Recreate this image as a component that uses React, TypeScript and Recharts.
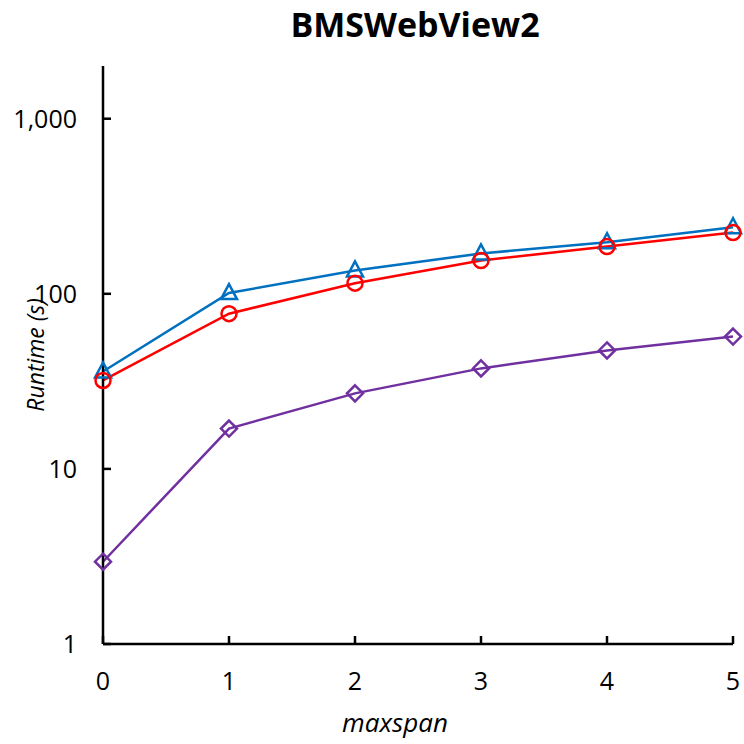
import React from 'react';
import { LineChart, Line, XAxis, YAxis } from 'recharts';

const maxspan = [0, 1, 2, 3, 4, 5];
const seriesBlue = [36, 101, 136, 170, 197, 240];
const seriesRed = [32, 77, 115, 155, 186, 224];
const seriesPurple = [2.95, 17, 27, 37.5, 47.5, 57];
const yTicks = [1, 10, 100, 1000];
const xTicks = [0, 1, 2, 3, 4, 5];

const data = maxspan.map((m, i) => ({
  maxspan: m,
  blue: seriesBlue[i],
  red: seriesRed[i],
  purple: seriesPurple[i],
}));

const FONT = '"Open Sans", "Liberation Sans", sans-serif';

const fmt = (v: number) => v.toLocaleString('en-US');

const XTick = (props: any) => {
  const { x, y, payload } = props;
  return (
    <text x={x} y={y + 46} textAnchor="middle" fontFamily={FONT} fontSize={25} fill="#000">
      {payload.value}
    </text>
  );
};

const YTick = (props: any) => {
  const { x, y, payload } = props;
  return (
    <text x={x - 26} y={y + 9} textAnchor="end" fontFamily={FONT} fontSize={25} fill="#000">
      {fmt(payload.value)}
    </text>
  );
};

const Triangle = (props: any) => {
  const { cx, cy, index } = props;
  if (cx == null || cy == null) return <g key={`t${index}`} />;
  return (
    <path
      key={`t${index}`}
      d={`M${cx},${cy - 9} L${cx - 8},${cy + 6} L${cx + 8},${cy + 6} Z`}
      fill="none"
      stroke="#0070C0"
      strokeWidth={2.5}
    />
  );
};

const Circle = (props: any) => {
  const { cx, cy, index } = props;
  if (cx == null || cy == null) return <g key={`c${index}`} />;
  return <circle key={`c${index}`} cx={cx} cy={cy} r={7.5} fill="none" stroke="#FF0000" strokeWidth={2.5} />;
};

const Diamond = (props: any) => {
  const { cx, cy, index } = props;
  if (cx == null || cy == null) return <g key={`d${index}`} />;
  return (
    <path
      key={`d${index}`}
      d={`M${cx},${cy - 8} L${cx + 8},${cy} L${cx},${cy + 8} L${cx - 8},${cy} Z`}
      fill="none"
      stroke="#7030A0"
      strokeWidth={2.5}
    />
  );
};

export default function App() {
  return (
    <div style={{ position: 'absolute', left: 0, top: 0, width: 744, height: 744, background: '#fff' }}>
      <div
        style={{
          position: 'absolute',
          left: 0,
          width: 830,
          top: 7,
          textAlign: 'center',
          fontFamily: FONT,
          fontWeight: 700,
          fontSize: 34,
          color: '#000',
          lineHeight: '34px',
        }}
      >
        BMSWebView2
      </div>
      <LineChart
        width={744}
        height={744}
        data={data}
        margin={{ top: 66, right: 11, bottom: 0, left: 0 }}
      >
        <XAxis
          dataKey="maxspan"
          type="number"
          domain={[0, 5]}
          ticks={xTicks}
          height={100}
          tickSize={-8}
          tickMargin={8}
          tickLine={{ stroke: '#000', strokeWidth: 2.5 }}
          axisLine={{ stroke: '#000', strokeWidth: 2.5 }}
          tick={<XTick />}
          interval={0}
          label={{
            content: () => (
              <text
                x={395}
                y={732}
                textAnchor="middle"
                fontFamily={FONT}
                fontStyle="italic"
                fontSize={26}
                fill="#000"
              >
                maxspan
              </text>
            ),
          }}
        />
        <YAxis
          scale="log"
          type="number"
          domain={[1, 2000]}
          allowDataOverflow
          ticks={yTicks}
          width={103}
          tickSize={-8}
          tickMargin={8}
          tickLine={{ stroke: '#000', strokeWidth: 2.5 }}
          axisLine={{ stroke: '#000', strokeWidth: 2.5 }}
          tick={<YTick />}
          interval={0}
          label={{
            content: (p: any) => {
              const vb = p.viewBox || {};
              const cy = vb.y + vb.height / 2;
              return (
                <text
                  x={35}
                  y={cy}
                  transform={`rotate(-90, 35, ${cy})`}
                  textAnchor="middle"
                  dominantBaseline="central"
                  fontFamily={FONT}
                  fontStyle="italic"
                  fontSize={23}
                  fill="#000"
                >
                  Runtime (s)
                </text>
              );
            },
          }}
        />
        <Line
          dataKey="blue"
          name="Series 1"
          stroke="#0070C0"
          strokeWidth={2.5}
          dot={Triangle}
          activeDot={false}
          isAnimationActive={false}
        />
        <Line
          dataKey="red"
          name="Series 2"
          stroke="#FF0000"
          strokeWidth={2.5}
          dot={Circle}
          activeDot={false}
          isAnimationActive={false}
        />
        <Line
          dataKey="purple"
          name="Series 3"
          stroke="#7030A0"
          strokeWidth={2.5}
          dot={Diamond}
          activeDot={false}
          isAnimationActive={false}
        />
      </LineChart>
    </div>
  );
}
